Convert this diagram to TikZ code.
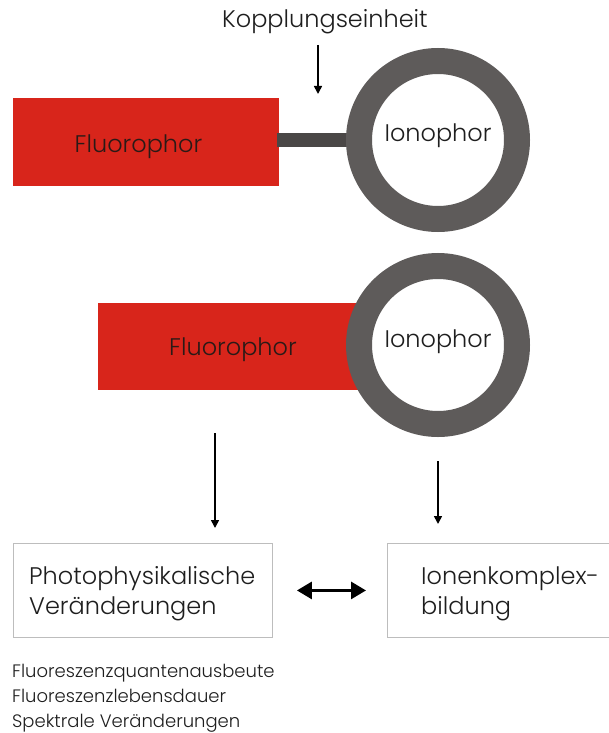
\documentclass[tikz,border=0pt]{standalone}
\usepackage{fontspec}
\setmainfont{Poppins}[UprightFont=* Light]
\usetikzlibrary{arrows.meta}

\definecolor{fluored}{HTML}{D8251B}
\definecolor{ringgray}{HTML}{5E5B5A}
\definecolor{linkgray}{HTML}{4A4746}
\definecolor{boxgray}{HTML}{BDBDBD}
\definecolor{inkdark}{HTML}{2A1A17}
\definecolor{ink}{HTML}{1E1E1E}

\begin{document}
\begin{tikzpicture}[x=1pt, y=-1pt,
  fluobox/.style={fill=fluored, draw=none, inner sep=0pt, anchor=north west},
  ringnode/.style={circle, draw=ringgray, line width=26pt, fill=white,
                   minimum size=158pt, inner sep=0pt},
  linkbar/.style={fill=linkgray, draw=none, inner sep=0pt, anchor=west,
                  minimum width=72pt, minimum height=14pt},
  resbox/.style={draw=boxgray, line width=0.9pt, fill=none, inner sep=0pt,
                 anchor=north west},
  bigtxt/.style={font=\fontsize{24}{28}\selectfont, text=ink, inner sep=0pt},
  fluotxt/.style={font=\fontsize{24}{28}\selectfont, text=inkdark, inner sep=0pt, anchor=base},
  smalltxt/.style={font=\fontsize{18}{21}\selectfont, text=ink, inner sep=0pt, anchor=base west},
  thinarrow/.style={line width=1.6pt, draw=black,
                    -{Triangle[length=8pt, width=8pt]}},
  dblarrow/.style={line width=3pt, draw=black,
                   {Triangle[length=15pt, width=17pt]}-{Triangle[length=15pt, width=17pt]}}
]
\useasboundingbox (0,0) rectangle (608,733);

% label of the coupling unit with its pointer
\node[bigtxt, anchor=base] (kop) at (325,28) {Kopplungseinheit};
\coordinate (kopA) at (318,45);
\coordinate (kopB) at (318,94);
\draw[thinarrow] (kopA) -- (kopB);

% upper molecule: fluorophore, link and ionophore ring
\node[fluobox, minimum width=266pt, minimum height=88pt] (fl1) at (13,98) {};
\node[fluotxt] (fl1txt) at (138.5,152) {Fluorophor};
\node[linkbar] (link) at (277,140) {};
\node[ringnode] (ion1) at (438,140) {};
\node[bigtxt, anchor=base] (ion1txt) at (438,142) {Ionophor};

% lower molecule: fluorophore fused with the ionophore ring
\node[fluobox, minimum width=340pt, minimum height=87pt] (fl2) at (98,303) {};
\node[fluotxt] (fl2txt) at (233,355) {Fluorophor};
\node[ringnode] (ion2) at (438,345) {};
\node[bigtxt, anchor=base] (ion2txt) at (438,347) {Ionophor};

% pointers down to the result boxes
\coordinate (la) at (215,433);
\coordinate (lb) at (215,528);
\coordinate (ra) at (438,461);
\coordinate (rb) at (438,524);
\draw[thinarrow] (la) -- (lb);
\draw[thinarrow] (ra) -- (rb);

% result boxes
\node[resbox, minimum width=259pt, minimum height=94pt] (pp) at (13,543) {};
\node[resbox, minimum width=240pt, minimum height=94pt] (ik) at (387,543) {};
\node[bigtxt, anchor=base west] (pp1) at (29,584) {Photophysikalische};
\node[bigtxt, anchor=base west] (pp2) at (29,614) {Veränderungen};
\node[bigtxt, anchor=base west] (ik1) at (421,584) {Ionenkomplex-};
\node[bigtxt, anchor=base west] (ik2) at (421,614) {bildung};

\draw[dblarrow] ([xshift=24pt]pp.east) -- ([xshift=-21pt]ik.west);

% observable quantities
\node[smalltxt] (obs1) at (12,677) {Fluoreszenzquantenausbeute};
\node[smalltxt] (obs2) at (12,702) {Fluoreszenzlebensdauer};
\node[smalltxt] (obs3) at (12,727) {Spektrale Veränderungen};
\end{tikzpicture}
\end{document}
